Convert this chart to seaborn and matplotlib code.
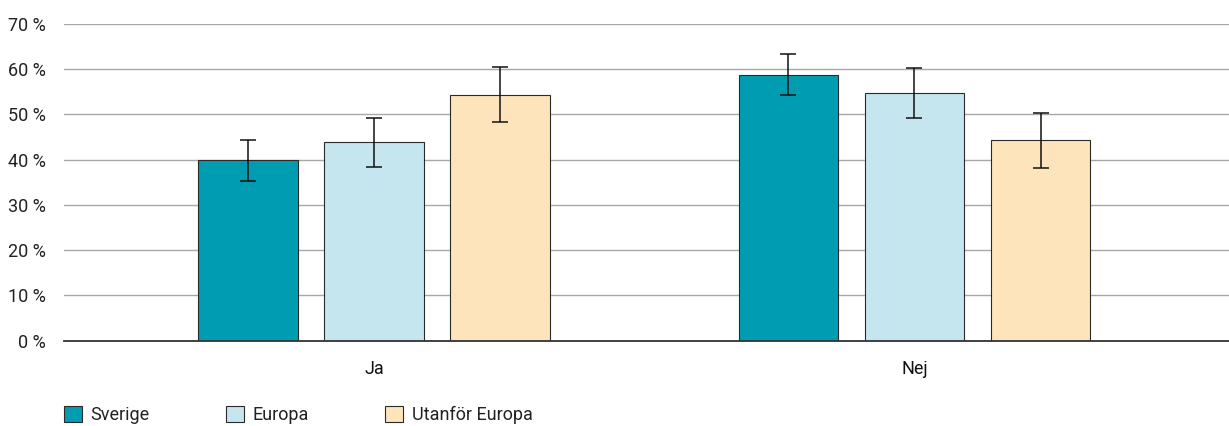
import matplotlib
matplotlib.use("Agg")
import matplotlib.pyplot as plt
import seaborn as sns
import pandas as pd
import numpy as np

categories = ["Ja", "Nej"]
series = ["Sverige", "Europa", "Utanför Europa"]
values = {
    "Sverige": [40.0, 58.6],
    "Europa": [43.8, 54.8],
    "Utanför Europa": [54.2, 44.3],
}
err_low = {
    "Sverige": [35.3, 54.2],
    "Europa": [38.4, 49.3],
    "Utanför Europa": [48.3, 38.1],
}
err_high = {
    "Sverige": [44.4, 63.4],
    "Europa": [49.3, 60.2],
    "Utanför Europa": [60.5, 50.3],
}
colors = ["#009DB2", "#C5E6EE", "#FDE4BB"]
yticks = [0, 10, 20, 30, 40, 50, 60, 70]

sns.set_theme(style="white")
plt.rcParams["font.family"] = ["Roboto", "DejaVu Sans"]

rows = []
for s in series:
    for c, v in zip(categories, values[s]):
        rows.append({"cat": c, "serie": s, "val": v})
df = pd.DataFrame(rows)

fig = plt.figure(figsize=(12.29, 4.26), dpi=100)
ax = fig.add_axes([0.052, 0.2002, 0.948, 0.7438])

sns.barplot(data=df, x="cat", y="val", hue="serie", order=categories,
            hue_order=series, palette=colors, saturation=1, width=0.70,
            gap=0.21, errorbar=None, edgecolor="#2a2a2a", linewidth=0.8,
            ax=ax, zorder=2)

# error bars positioned on the drawn bars
for i, s in enumerate(series):
    cont = ax.containers[i]
    xs = [p.get_x() + p.get_width() / 2 for p in cont.patches]
    ys = np.array(values[s])
    lo = ys - np.array(err_low[s])
    hi = np.array(err_high[s]) - ys
    ax.errorbar(xs, ys, yerr=[lo, hi], fmt="none", ecolor="#111111",
                elinewidth=1.1, capsize=5.5, capthick=1.1, zorder=3)

ax.set_xlim(-0.574, 1.582)
ax.set_ylim(0, 70)
ax.set_yticks(yticks)
ax.set_yticklabels([f"{t} %" for t in yticks], fontsize=13, color="#222222")
ax.tick_params(axis="y", length=0, pad=13)
ax.tick_params(axis="x", length=0, pad=14, labelsize=13, labelcolor="#111111")
ax.set_xlabel("")
ax.set_ylabel("")
ax.yaxis.grid(True, color="#a8a8a8", linewidth=1.0, zorder=0)
ax.set_axisbelow(True)
for sp in ["left", "right", "top"]:
    ax.spines[sp].set_visible(False)
ax.spines["bottom"].set_color("#333333")
ax.spines["bottom"].set_linewidth(1.3)
ax.spines["bottom"].set_zorder(4)

handles, labels = ax.get_legend_handles_labels()
ax.get_legend().remove()
fig.legend(handles, labels, loc="center left", bbox_to_anchor=(0.0385, 0.026),
           ncol=3, frameon=False, fontsize=13, handlelength=1.0,
           handleheight=1.0, handletextpad=0.5, columnspacing=4.2,
           labelcolor="#222222")

fig.savefig("out.png", dpi=100)
